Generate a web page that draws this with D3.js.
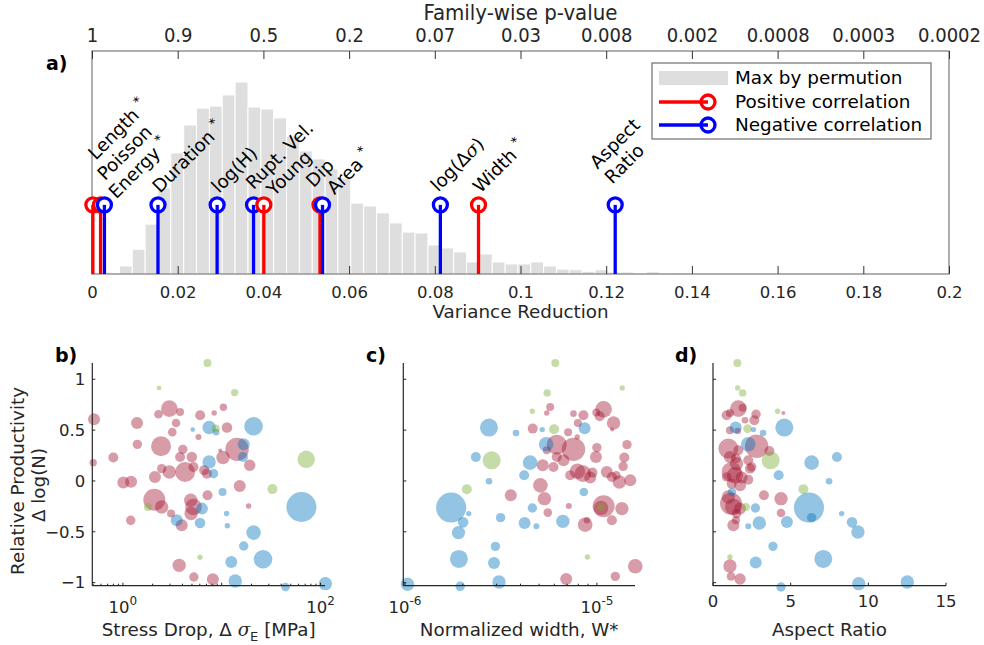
<!DOCTYPE html>
<html>
<head>
<meta charset="utf-8">
<script src="https://cdn.jsdelivr.net/npm/d3@7"></script>
<style>
body { margin: 0; background: #fff; }
svg { font-family: "DejaVu Sans", sans-serif; }
</style>
</head>
<body>
<div id="chart"></div>
<script>
var width = 984,
	height = 645;

// ---- panel a data ----
var binStart = 0.0064,
	binWidth = 0.003;
var permCounts = [36, 111, 224, 386, 543, 668, 744, 753, 803, 861, 749, 740, 700, 619, 552, 516, 471, 430,
	318, 305, 274, 229, 188, 184, 130, 117, 99, 54, 90, 54, 45, 45, 54, 36, 22, 19, 12, 19, 9, 9, 3, 10, 3, 6];
var predictors = ['Length', 'Poisson', 'Energy', 'Duration', 'log(H)', 'Rupt. Vel.', 'Young', 'Dip', 'Area', 'log(Δσ)', 'Width', 'Aspect Ratio'];
var varReduction = [0.0002, 0.002, 0.0029, 0.0154, 0.0292, 0.0377, 0.0401, 0.0532, 0.0538, 0.0813, 0.0902, 0.1221];
var corrSign = [1, 1, -1, -1, -1, -1, 1, 1, -1, -1, 1, -1];
var significant = [true, false, true, true, false, false, false, false, true, false, true, false];
var stemLevel = 310;
var varTicks = [0, 0.02, 0.04, 0.06, 0.08, 0.1, 0.12, 0.14, 0.16, 0.18, 0.2];
var pvalLabels = ['1', '0.9', '0.5', '0.2', '0.07', '0.03', '0.008', '0.002', '0.0008', '0.0003', '0.0002'];
var legendLabels = ['Max by permution', 'Positive correlation', 'Negative correlation'];

// ---- panels b-d data: [x, productivity, size, group] ----
var productivityTicks = [-1, -0.5, 0, 0.5, 1];
var stressDropPts = [
	[0.51, 0.607, 6, 'r'], [0.50, 0.18, 3.7, 'r'], [1.39, 0.57, 6, 'r'], [1.40, 0.36, 4.7, 'r'], [0.80, 0.23, 5, 'r'],
	[1.01, -0.016, 6, 'r'], [1.21, -0.007, 6, 'r'], [1.20, -0.387, 4.7, 'r'], [2.43, 0.341, 10, 'r'], [2.95, 0.711, 8.3, 'r'],
	[2.29, 0.656, 4.3, 'r'], [3.79, 0.679, 4, 'r'], [3.45, 0.57, 4.3, 'r'], [3.16, 0.48, 4.3, 'r'], [6.05, 0.646, 5, 'r'],
	[8.39, 0.669, 2.7, 'r'], [10.4, 0.725, 3.7, 'r'], [11.3, 0.525, 5.3, 'r'], [5.82, 0.433, 3, 'r'], [4.04, 0.311, 4.7, 'r'],
	[3.79, 0.236, 5, 'r'], [4.98, 0.236, 5.3, 'r'], [9.66, 0.30, 2, 'r'], [10.3, 0.23, 6.7, 'r'], [14.3, 0.311, 11.7, 'r'],
	[19.2, 0.154, 5.7, 'r'], [15.2, -0.049, 6, 'r'], [2.11, 0.039, 6, 'r'], [2.47, 0.121, 4.7, 'r'], [2.95, 0.088, 6.7, 'r'],
	[4.26, 0.088, 10, 'r'], [5.18, 0.138, 5, 'r'], [6.64, 0.105, 5, 'r'], [7.07, 0.072, 5, 'r'], [2.08, -0.184, 11, 'r'],
	[2.47, -0.256, 6.7, 'r'], [3.07, -0.321, 4, 'r'], [4.86, -0.19, 6.7, 'r'], [5.18, -0.256, 8.3, 'r'], [4.90, -0.32, 6.7, 'r'],
	[3.94, -0.436, 6, 'r'], [7.18, -0.141, 5, 'r'], [18.7, -0.246, 2.7, 'r'], [3.71, -0.83, 6.7, 'r'], [5.23, -0.944, 4.7, 'r'],
	[8.13, -0.967, 6, 'r'],
	[7.46, 0.525, 6.7, 'b'], [5.09, 0.505, 2.3, 'b'], [8.79, 0.48, 3.3, 'b'], [21.0, 0.538, 9.3, 'b'], [16.7, 0.36, 6, 'b'],
	[16.4, 0.236, 5, 'b'], [7.46, 0.187, 6.7, 'b'], [8.26, 0.072, 4.7, 'b'], [10.2, -0.108, 4, 'b'], [6.31, -0.272, 6, 'b'],
	[11.2, -0.32, 2.7, 'b'], [3.51, -0.387, 6, 'b'], [6.03, -0.413, 5.3, 'b'], [11.4, -0.44, 2.7, 'b'], [21.0, -0.508, 7.3, 'b'],
	[16.7, -0.64, 4.7, 'b'], [26.2, -0.77, 9.3, 'b'], [12.5, -0.797, 6, 'b'], [13.7, -0.984, 6.7, 'b'], [44.2, -1.043, 4.3, 'b'],
	[112, -1.01, 6.7, 'b'], [64.1, -0.256, 15, 'b'],
	[7.18, 1.16, 4, 'g'], [2.32, 0.915, 2.3, 'g'], [13.5, 0.869, 3.7, 'g'], [8.7, 0.515, 4, 'g'], [71.6, 0.213, 8.7, 'g'],
	[32.6, -0.08, 5, 'g'], [1.79, -0.256, 4, 'g'], [6.03, -0.75, 2.7, 'g']
];
var normWidthPts = [
	[5.71e-6, 0.728, 4, 'r'], [5.48e-6, 0.669, 2.7, 'r'], [4.63e-6, 0.515, 5, 'r'], [7.55e-6, 0.662, 3.3, 'r'], [8.51e-6, 0.646, 5, 'r'],
	[1.084e-5, 0.705, 8.3, 'r'], [9.93e-6, 0.672, 4, 'r'], [1.035e-5, 0.636, 5, 'r'], [1.222e-5, 0.57, 6.7, 'r'], [7.96e-6, 0.57, 4, 'r'],
	[7.08e-6, 0.48, 4, 'r'], [1.2e-5, 0.505, 2, 'r'], [7.9e-6, 0.433, 2.7, 'r'], [6.18e-6, 0.357, 10, 'r'], [7.55e-6, 0.311, 11.7, 'r'],
	[5.48e-6, 0.302, 4, 'r'], [6.18e-6, 0.236, 5, 'r'], [6.70e-6, 0.203, 6, 'r'], [1.0e-5, 0.328, 4.7, 'r'], [9.89e-6, 0.236, 6, 'r'],
	[1.435e-5, 0.357, 4.7, 'r'], [1.39e-5, 0.23, 5, 'r'], [1.37e-5, 0.144, 4.7, 'r'], [5.22e-6, 0.154, 6, 'r'], [5.94e-6, 0.138, 5, 'r'],
	[7.26e-6, 0.056, 5, 'r'], [7.92e-6, 0.095, 7.7, 'r'], [8.45e-6, 0.072, 8.3, 'r'], [9.23e-6, 0.033, 6, 'r'], [9.48e-6, 0.082, 5, 'r'],
	[1.127e-5, 0.089, 6, 'r'], [1.197e-5, 0.039, 5, 'r'], [1.309e-5, -0.01, 6.7, 'r'], [1.493e-5, 0.007, 6, 'r'], [1.262e-5, 0.056, 4.3, 'r'],
	[5.08e-6, -0.043, 7.3, 'r'], [3.56e-6, -0.141, 6, 'r'], [5.33e-6, -0.174, 6.7, 'r'], [5.55e-6, -0.311, 4.3, 'r'], [7.14e-6, -0.246, 3, 'r'],
	[1.084e-5, -0.249, 11, 'r'], [1.05e-5, -0.266, 7.3, 'r'], [1.35e-5, -0.272, 6.7, 'r'], [8.87e-6, -0.387, 3.3, 'r'], [8.69e-6, -0.43, 7.3, 'r'],
	[1.197e-5, -0.387, 5, 'r'], [1.585e-5, -0.839, 7.3, 'r'], [1.247e-5, -0.938, 4.7, 'r'], [6.92e-6, -0.964, 6, 'r'],
	[2.74e-6, 0.525, 9, 'b'], [3.79e-6, 0.472, 3.3, 'b'], [5.19e-6, 0.505, 2.7, 'b'], [8.63e-6, 0.518, 6, 'b'], [5.44e-6, 0.361, 7.3, 'b'],
	[2.34e-6, 0.236, 5, 'b'], [4.49e-6, 0.18, 7.3, 'b'], [4.18e-6, 0.056, 5, 'b'], [2.74e-6, -0.003, 3.3, 'b'], [8.55e-6, -0.108, 4.3, 'b'],
	[1.74e-6, -0.262, 15, 'b'], [2.15e-6, -0.321, 2.7, 'b'], [4.61e-6, -0.266, 4.7, 'b'], [3.15e-6, -0.361, 4.7, 'b'], [2.01e-6, -0.407, 5.3, 'b'],
	[4.2e-6, -0.413, 6, 'b'], [4.84e-6, -0.446, 3, 'b'], [6.65e-6, -0.397, 6.7, 'b'], [1.9e-6, -0.508, 6.7, 'b'], [2.96e-6, -0.643, 4.7, 'b'],
	[1.91e-6, -0.767, 9, 'b'], [2.91e-6, -0.807, 6, 'b'], [3.09e-6, -0.993, 6.7, 'b'], [1.94e-6, -1.036, 4.7, 'b'], [1.03e-6, -1.016, 6.7, 'b'],
	[6.07e-6, 1.16, 4, 'g'], [5.51e-6, 0.866, 3.7, 'g'], [1.355e-5, 0.915, 2.7, 'g'], [4.61e-6, 0.685, 2.7, 'g'], [5.98e-6, 0.508, 5, 'g'],
	[2.83e-6, 0.203, 9, 'g'], [2.10e-6, -0.082, 5, 'g'], [1.05e-5, -0.256, 4, 'g'], [8.93e-6, -0.748, 2.7, 'g']
];
var aspectRatioPts = [
	[1.63, 0.711, 8.3, 'r'], [1.09, 0.669, 4, 'r'], [0.88, 0.646, 5, 'r'], [1.91, 0.721, 4, 'r'], [2.77, 0.656, 4.7, 'r'],
	[4.53, 0.669, 2, 'r'], [2.66, 0.597, 5, 'r'], [1.09, 0.498, 4, 'r'], [1.59, 0.492, 3.3, 'r'], [2.81, 0.341, 11.7, 'r'],
	[0.99, 0.318, 10, 'r'], [3.63, 0.295, 5, 'r'], [1.63, 0.302, 5, 'r'], [1.09, 0.236, 6, 'r'], [1.48, 0.22, 5, 'r'],
	[2.27, 0.203, 5, 'r'], [2.49, 0.138, 4.7, 'r'], [1.2, 0.089, 10, 'r'], [1.42, 0.056, 8.3, 'r'], [1.85, 0.033, 6, 'r'],
	[2.27, 0.013, 5, 'r'], [1.74, -0.043, 6, 'r'], [1.2, -0.026, 5, 'r'], [3.28, -0.141, 5, 'r'], [4.38, -0.174, 6.7, 'r'],
	[1.16, -0.223, 11, 'r'], [1.31, -0.256, 8.3, 'r'], [1.74, -0.272, 6, 'r'], [4.38, -0.315, 4.3, 'r'], [1.48, -0.387, 4, 'r'],
	[1.31, -0.436, 6, 'r'], [1.09, -0.836, 6.7, 'r'], [1.16, -0.938, 4.3, 'r'], [1.74, -0.964, 5.7, 'r'], [1.52, 0.17, 6.7, 'r'],
	[0.88, 0.04, 4.7, 'r'], [2.06, 0.597, 3.3, 'r'], [2.38, 0.121, 5, 'r'], [0.99, -0.157, 6.7, 'r'], [1.52, -0.321, 4.7, 'r'],
	[4.59, 0.525, 9, 'b'], [3.22, 0.472, 3.3, 'b'], [2.6, 0.505, 2.7, 'b'], [1.46, 0.525, 6, 'b'], [2.27, 0.361, 7.3, 'b'],
	[7.98, 0.236, 5, 'b'], [6.35, 0.18, 7.3, 'b'], [4.23, 0.056, 5, 'b'], [7.47, -0.003, 3.3, 'b'], [1.22, -0.108, 4.3, 'b'],
	[6.18, -0.262, 15, 'b'], [8.28, -0.321, 2.7, 'b'], [2.73, -0.266, 4.7, 'b'], [6.35, -0.361, 4.7, 'b'], [8.95, -0.407, 5.3, 'b'],
	[4.76, -0.403, 6, 'b'], [2.27, -0.446, 3, 'b'], [2.98, -0.413, 6.7, 'b'], [9.33, -0.502, 6.7, 'b'], [3.86, -0.643, 4.7, 'b'],
	[7.1, -0.767, 9, 'b'], [2.75, -0.803, 6, 'b'], [9.38, -1.01, 6.7, 'b'], [4.38, -1.043, 4.7, 'b'], [12.51, -0.993, 6.7, 'b'],
	[1.57, 1.16, 4, 'g'], [1.59, 0.915, 2.7, 'g'], [1.91, 0.866, 3.7, 'g'], [4.16, 0.685, 2.7, 'g'], [2.23, 0.515, 4.3, 'g'],
	[3.71, 0.203, 9, 'g'], [5.82, -0.082, 5, 'g'], [2.12, -0.256, 4, 'g'], [1.09, -0.748, 2.7, 'g']
];

var groupColor = { r: '#a2142f', b: '#0072bd', g: '#77ac30' };
var axisColor = '#262626';

var svg = d3.select('#chart')
	.append('svg')
	.attr('width', width)
	.attr('height', height);

// ================= panel a =================
var boxA = { left: 92, right: 949, top: 51, bottom: 274 };
var xa = d3.scaleLinear().domain([0, 0.2]).range([boxA.left, boxA.right]);
var ya = d3.scaleLinear().domain([0, 1000]).range([boxA.bottom, boxA.top]);

svg.append('g')
	.selectAll('rect')
	.data(permCounts)
	.join('rect')
	.attr('x', function(d, i) { return xa(binStart + i * binWidth); })
	.attr('width', function(d, i) { return xa(binStart + (i + 1) * binWidth) - xa(binStart + i * binWidth); })
	.attr('y', function(d) { return ya(d); })
	.attr('height', function(d) { return ya(0) - ya(d); })
	.attr('fill', '#dedede')
	.attr('stroke', '#fff')
	.attr('stroke-width', 1);

svg.append('rect')
	.attr('x', boxA.left).attr('y', boxA.top)
	.attr('width', boxA.right - boxA.left).attr('height', boxA.bottom - boxA.top)
	.attr('fill', 'none').attr('stroke', '#7a7a7a').attr('stroke-width', 1.2);

var bottomA = svg.append('g')
	.attr('transform', 'translate(0,' + boxA.bottom + ')')
	.call(d3.axisBottom(xa).tickValues(varTicks).tickSize(-8).tickFormat(d3.format('~g')));
bottomA.select('.domain').remove();
bottomA.selectAll('line').attr('stroke', '#333');
bottomA.selectAll('text').attr('y', 24).attr('dy', 0)
	.attr('font-size', 16.5).attr('font-family', 'DejaVu Sans').attr('fill', axisColor);

var topA = svg.append('g')
	.attr('transform', 'translate(0,' + boxA.top + ')')
	.call(d3.axisTop(xa).tickValues(varTicks).tickSize(-8).tickFormat(function(d, i) { return pvalLabels[i]; }));
topA.select('.domain').remove();
topA.selectAll('line').attr('stroke', '#333');
topA.selectAll('text').attr('y', -9).attr('dy', 0)
	.attr('font-size', 20).attr('font-family', 'DejaVu Sans Condensed, DejaVu Sans')
	.attr('font-stretch', 'condensed').attr('fill', axisColor);

svg.append('text')
	.attr('x', (boxA.left + boxA.right) / 2).attr('y', 318)
	.attr('text-anchor', 'middle').attr('font-size', 18.3).attr('fill', axisColor)
	.text('Variance Reduction');
svg.append('text')
	.attr('x', (boxA.left + boxA.right) / 2).attr('y', 20)
	.attr('text-anchor', 'middle').attr('font-size', 22)
	.attr('font-family', 'DejaVu Sans Condensed, DejaVu Sans').attr('font-stretch', 'condensed')
	.attr('fill', axisColor)
	.text('Family-wise p-value');

// stems (circle first, stem line drawn over it up to the centre)
var stemG = svg.append('g');
predictors.forEach(function(name, i) {
	var col = corrSign[i] > 0 ? '#ff0000' : '#0000ff';
	var x = xa(varReduction[i]);
	stemG.append('circle')
		.attr('cx', x).attr('cy', ya(stemLevel)).attr('r', 7)
		.attr('fill', '#fff').attr('stroke', col).attr('stroke-width', 3.3);
	stemG.append('line')
		.attr('x1', x).attr('x2', x)
		.attr('y1', ya(0)).attr('y2', ya(stemLevel))
		.attr('stroke', col).attr('stroke-width', 3.3);
});

// label layout: shift along / across the 45 degree baseline, stacking lines
var labelLayout = {
	'Length': { anchor: 'Energy', line: -2, along: 13 },
	'Poisson': { anchor: 'Energy', line: -1, along: 5 },
	'Energy': { along: 3, perp: 11 },
	'Rupt. Vel.': { along: 1, perp: -4 },
	'Young': { along: 4, perp: 8 },
	'Dip': { along: -2, perp: -10 },
	'Area': { along: 6, perp: 8 },
	'log(Δσ)': { along: -2, perp: -4 },
	'Aspect Ratio': { along: 3, perp: -10 }
};
var lineStep = 21;

function writeLabel(sel, txt, star) {
	var parts = txt.split('σ');
	parts.forEach(function(p, k) {
		if (k > 0) sel.append('tspan').attr('font-style', 'italic').attr('font-family', 'DejaVu Serif').text('σ');
		if (p) sel.append('tspan').text(p);
	});
	if (star) {
		sel.append('tspan').text(' ');
		sel.append('tspan').attr('dy', -8).attr('font-size', 13).text('*');
	}
}

predictors.forEach(function(name, i) {
	var lay = labelLayout[name] || {};
	var anchorIdx = lay.anchor ? predictors.indexOf(lay.anchor) : i;
	var anchorLay = labelLayout[predictors[anchorIdx]] || {};
	var bx = xa(varReduction[anchorIdx]) + 2,
		by = ya(stemLevel) - 11;
	var g = svg.append('g').attr('transform', 'translate(' + bx + ',' + by + ') rotate(-45)');
	var lines = name === 'Aspect Ratio' ? ['Aspect', 'Ratio'] : [name];
	lines.forEach(function(ln, k) {
		var lineIdx = (lay.line || 0) + k - (lines.length - 1);
		var t = g.append('text')
			.attr('x', lay.anchor ? (anchorLay.along || 0) + (lay.along || 0) : (lay.along || 0))
			.attr('y', (anchorLay.perp || 0) + lineIdx * lineStep)
			.attr('font-size', 18.2).attr('fill', '#000');
		writeLabel(t, ln, significant[i] && k === lines.length - 1);
	});
});

// legend
var leg = svg.append('g');
leg.append('rect')
	.attr('x', 652).attr('y', 63).attr('width', 279).attr('height', 76)
	.attr('fill', '#fff').attr('stroke', '#6e6e6e').attr('stroke-width', 1.2);
var legRows = [78, 102, 125];
leg.append('rect').attr('x', 659).attr('y', legRows[0] - 7).attr('width', 69).attr('height', 14).attr('fill', '#dedede');
[['#ff0000', legRows[1]], ['#0000ff', legRows[2]]].forEach(function(r) {
	leg.append('circle').attr('cx', 708).attr('cy', r[1]).attr('r', 7)
		.attr('fill', '#fff').attr('stroke', r[0]).attr('stroke-width', 3.3);
	leg.append('line').attr('x1', 659).attr('x2', 708).attr('y1', r[1]).attr('y2', r[1])
		.attr('stroke', r[0]).attr('stroke-width', 3.3);
});
legendLabels.forEach(function(l, i) {
	leg.append('text').attr('x', 735).attr('y', legRows[i]).attr('dy', '0.35em')
		.attr('font-size', 18.4).attr('fill', '#000').text(l);
});

// ================= panels b-d =================
var scatterTop = 363,
	scatterBottom = 585.7;
var yp = d3.scaleLinear().domain([-1.03, 1.16]).range([scatterBottom, scatterTop]);
var rScale = d3.scaleLinear().domain([0, 15]).range([0, 15]);

function logTicks(scale) {
	var d = scale.domain(), out = [];
	var lo = Math.floor(Math.log10(d[0])), hi = Math.ceil(Math.log10(d[1]));
	for (var e = lo; e <= hi; e++)
		for (var m = 1; m < 10; m++) {
			var v = m * Math.pow(10, e);
			if (v >= d[0] && v <= d[1]) out.push({ v: v, major: m === 1 });
		}
	return out;
}

function drawPanel(pts, xs, opts) {
	var g = svg.append('g');
	var x0 = xs.range()[0], x1 = xs.range()[1];
	['r', 'b', 'g'].forEach(function(grp) {
		g.selectAll(null)
			.data(pts.filter(function(p) { return p[3] === grp; }))
			.join('circle')
			.attr('cx', function(p) { return xs(p[0]); })
			.attr('cy', function(p) { return yp(p[1]); })
			.attr('r', function(p) { return rScale(p[2]); })
			.attr('fill', groupColor[grp])
			.attr('fill-opacity', 0.42);
	});
	// axis lines
	g.append('line').attr('x1', x0).attr('x2', x0).attr('y1', scatterTop).attr('y2', scatterBottom)
		.attr('stroke', axisColor).attr('stroke-width', 1.2);
	g.append('line').attr('x1', x0).attr('x2', x1).attr('y1', scatterBottom).attr('y2', scatterBottom)
		.attr('stroke', axisColor).attr('stroke-width', 1.2);
	// y ticks (inward)
	productivityTicks.forEach(function(t) {
		g.append('line').attr('x1', x0).attr('x2', x0 + 3).attr('y1', yp(t)).attr('y2', yp(t))
			.attr('stroke', axisColor);
		if (opts.yLabels)
			g.append('text').attr('x', x0 - 7).attr('y', yp(t)).attr('dy', '0.35em')
				.attr('text-anchor', 'end').attr('font-size', 16.5).attr('fill', axisColor)
				.text(d3.format('~g')(t));
	});
	// x ticks
	if (opts.log) {
		logTicks(xs).forEach(function(t) {
			g.append('line').attr('x1', xs(t.v)).attr('x2', xs(t.v))
				.attr('y1', scatterBottom).attr('y2', scatterBottom - (t.major ? 3 : 2))
				.attr('stroke', axisColor);
		});
		opts.labelExps.forEach(function(e) {
			var t = g.append('text').attr('x', xs(Math.pow(10, e))).attr('y', 613)
				.attr('text-anchor', 'middle').attr('font-size', 16.5).attr('fill', axisColor);
			t.append('tspan').text('10');
			t.append('tspan').attr('dy', -8).attr('font-size', 12).text(e);
		});
	} else {
		opts.ticks.forEach(function(v) {
			g.append('line').attr('x1', xs(v)).attr('x2', xs(v))
				.attr('y1', scatterBottom).attr('y2', scatterBottom - 3).attr('stroke', axisColor);
			g.append('text').attr('x', xs(v)).attr('y', 607).attr('text-anchor', 'middle')
				.attr('font-size', 16.5).attr('fill', axisColor).text(v);
		});
	}
	var xl = g.append('text').attr('x', (x0 + x1) / 2).attr('y', 636)
		.attr('text-anchor', 'middle').attr('font-size', 18.3).attr('fill', axisColor);
	opts.xlabel(xl);
	g.append('text').attr('x', opts.letterX).attr('y', 362)
		.attr('font-size', 19).attr('font-weight', 'bold').attr('fill', '#000').text(opts.letter);
}

var xb = d3.scaleLog().domain([0.49, 111]).range([92.3, 325]);
var xc = d3.scaleLog().domain([0.98e-6, 1.58e-5]).range([403.3, 635]);
var xd = d3.scaleLinear().domain([0, 15]).range([713, 946]);

drawPanel(stressDropPts, xb, {
	log: true, labelExps: [0, 2], yLabels: true, letter: 'b)', letterX: 55,
	xlabel: function(t) {
		t.append('tspan').text('Stress Drop, Δ ');
		t.append('tspan').attr('font-style', 'italic').attr('font-family', 'DejaVu Serif').text('σ');
		t.append('tspan').attr('dy', 5).attr('font-size', 13).text('E');
		t.append('tspan').attr('dy', -5).text(' [MPa]');
	}
});
drawPanel(normWidthPts, xc, {
	log: true, labelExps: [-6, -5], yLabels: false, letter: 'c)', letterX: 366,
	xlabel: function(t) { t.text('Normalized width, W*'); }
});
drawPanel(aspectRatioPts, xd, {
	log: false, ticks: [0, 5, 10, 15], yLabels: false, letter: 'd)', letterX: 675,
	xlabel: function(t) { t.text('Aspect Ratio'); }
});

// y label of panel b
var yl = svg.append('g').attr('transform', 'translate(0,' + yp(0) + ') rotate(-90)');
yl.append('text').attr('x', 0).attr('y', 24).attr('text-anchor', 'middle')
	.attr('font-size', 18.3).attr('fill', axisColor).text('Relative Productivity');
yl.append('text').attr('x', -4).attr('y', 45).attr('text-anchor', 'middle')
	.attr('font-size', 18.3).attr('fill', axisColor).text('Δ log(N)');

// panel a letter
svg.append('text').attr('x', 46).attr('y', 70)
	.attr('font-size', 19).attr('font-weight', 'bold').attr('fill', '#000').text('a)');
</script>
</body>
</html>
